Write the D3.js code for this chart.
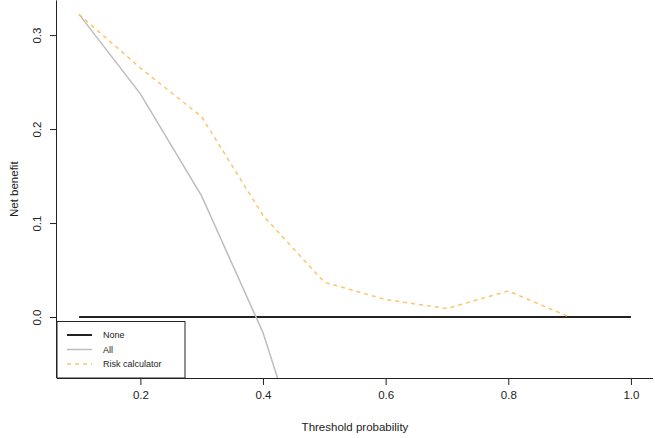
<!DOCTYPE html>
<html>
<head>
<meta charset="utf-8">
<script src="https://cdn.jsdelivr.net/npm/d3@7"></script>
<style>
  body { margin: 0; background: #fff; }
  svg { font-family: "Liberation Sans", Arial, sans-serif; }
</style>
</head>
<body>
<svg id="chart" width="655" height="438"></svg>
<script>
const thresholds = [0.1, 0.2, 0.3, 0.4, 0.5, 0.6, 0.7, 0.8, 0.9];
const noneValues = [0, 0, 0, 0, 0, 0, 0, 0, 0, 0];
const noneThresholds = [0.1, 0.2, 0.3, 0.4, 0.5, 0.6, 0.7, 0.8, 0.9, 1.0];
const allValues = [0.322, 0.2375, 0.1286, -0.0167, -0.22, -0.525, -1.033, -2.05, -5.1];
const riskValues = [0.322, 0.265, 0.213, 0.108, 0.037, 0.0185, 0.009, 0.0277, 0.0];
const xTicks = [0.2, 0.4, 0.6, 0.8, 1.0];
const yTicks = [0.0, 0.1, 0.2, 0.3];
const legendLabels = ["None", "All", "Risk calculator"];

const svg = d3.select("#chart");
const mLeft = 57, mRight = 653, mTop = 0.4, mBottom = 378;

const x = d3.scaleLinear().domain([0.064, 1.036]).range([mLeft, mRight]);
const y = d3.scaleLinear().domain([-0.0649, 0.3369]).range([mBottom, mTop]);

svg.append("defs").append("clipPath").attr("id", "plotclip")
  .append("rect").attr("x", mLeft).attr("y", 0).attr("width", mRight - mLeft).attr("height", mBottom);

const plot = svg.append("g").attr("clip-path", "url(#plotclip)");
const line = d3.line().x(d => x(d[0])).y(d => y(d[1]));

plot.append("path").datum(noneThresholds.map((t, i) => [t, noneValues[i]]))
  .attr("d", line).attr("fill", "none").attr("stroke", "#222").attr("stroke-width", 2);
plot.append("path").datum(thresholds.map((t, i) => [t, allValues[i]]))
  .attr("d", line).attr("fill", "none").attr("stroke", "#bdbdbd").attr("stroke-width", 1.5);
plot.append("path").datum(thresholds.map((t, i) => [t, riskValues[i]]))
  .attr("d", line).attr("fill", "none").attr("stroke", "#fdc46a").attr("stroke-width", 1.5)
  .attr("stroke-dasharray", "4,4");

// axes
const xAxis = svg.append("g").attr("transform", `translate(0,${mBottom})`)
  .call(d3.axisBottom(x).tickValues(xTicks).tickFormat(d3.format(".1f")).tickSize(7).tickPadding(6));
xAxis.select(".domain").attr("d", `M${mLeft},0.5H${mRight}`).attr("stroke", "#222");
xAxis.selectAll(".tick line").attr("stroke", "#222");
xAxis.selectAll("text").attr("font-size", 11.5).attr("fill", "#222");

const yAxis = svg.append("g").attr("transform", `translate(${mLeft},0)`)
  .call(d3.axisLeft(y).tickValues(yTicks).tickFormat(d3.format(".1f")).tickSize(7).tickPadding(6));
yAxis.select(".domain").attr("d", `M-0.5,${mTop}V${mBottom}`).attr("stroke", "#222");
yAxis.selectAll(".tick line").attr("stroke", "#222");
yAxis.selectAll("text")
  .attr("font-size", 11.5).attr("fill", "#222")
  .attr("text-anchor", "middle")
  .attr("x", 0).attr("y", 0).attr("dy", "0.35em")
  .attr("transform", "translate(-20,0) rotate(-90)");

// titles
svg.append("text").attr("x", (mLeft + mRight) / 2).attr("y", 431)
  .attr("text-anchor", "middle").attr("font-size", 11.5).attr("fill", "#222")
  .text("Threshold probability");
svg.append("text").attr("transform", `translate(18,${(mTop + mBottom) / 2}) rotate(-90)`)
  .attr("text-anchor", "middle").attr("font-size", 11.5).attr("fill", "#222")
  .text("Net benefit");

// legend
const lg = svg.append("g");
lg.append("rect").attr("x", 57).attr("y", 321.5).attr("width", 128).attr("height", 56.5)
  .attr("fill", "#fff").attr("stroke", "#222").attr("stroke-width", 1);
const lstyles = [
  {stroke: "#222", w: 2, dash: null},
  {stroke: "#bdbdbd", w: 1.5, dash: null},
  {stroke: "#fdc46a", w: 1.5, dash: "4,4"}
];
legendLabels.forEach((lab, i) => {
  const yy = 335 + i * 14.5;
  lg.append("line").attr("x1", 67).attr("x2", 92).attr("y1", yy).attr("y2", yy)
    .attr("stroke", lstyles[i].stroke).attr("stroke-width", lstyles[i].w)
    .attr("stroke-dasharray", lstyles[i].dash);
  lg.append("text").attr("x", 103).attr("y", yy).attr("dy", "0.35em")
    .attr("font-size", 9).attr("fill", "#222").text(lab);
});
</script>
</body>
</html>
